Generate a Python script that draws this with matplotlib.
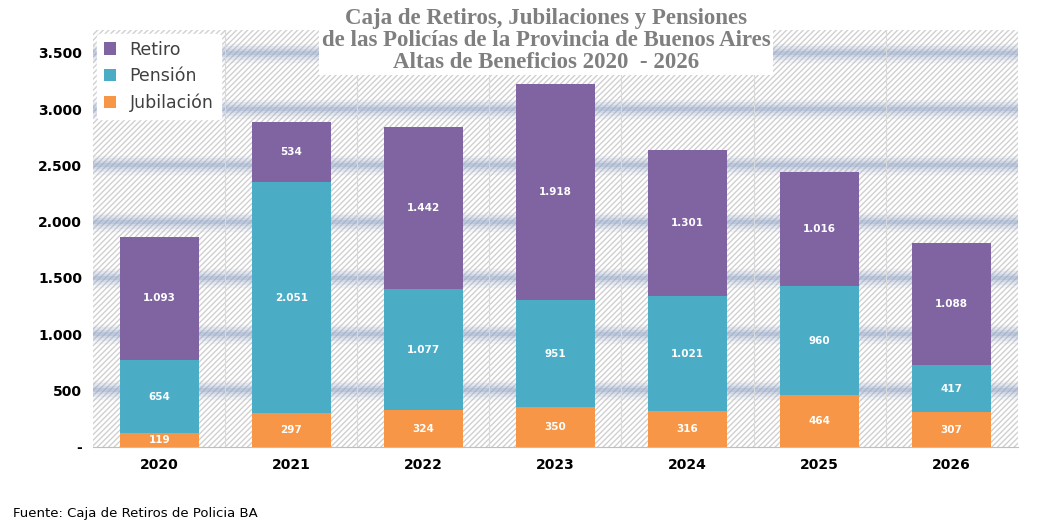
import numpy as np
import matplotlib.pyplot as plt
import matplotlib as mpl

years = ['2020', '2021', '2022', '2023', '2024', '2025', '2026']
jubilacion = [119, 297, 324, 350, 316, 464, 307]
pension = [654, 2051, 1077, 951, 1021, 960, 417]
retiro = [1093, 534, 1442, 1918, 1301, 1016, 1088]

C_RET = '#8064A2'
C_PEN = '#4BACC6'
C_JUB = '#F79646'


def fmt(v):
    return '{:,}'.format(v).replace(',', '.')


fig = plt.figure(figsize=(10.6, 5.3), dpi=100)
ax = fig.add_axes([0.088, 0.157, 0.872, 0.786])

x = np.arange(len(years))
ax.set_xlim(-0.5, len(years) - 0.5)
ax.set_ylim(0, 3700)

# hatched background
ax.fill_between([-0.5, len(years) - 0.5], 0, 3700, facecolor='white',
                edgecolor='#d0d0d0', hatch='//////', linewidth=0, zorder=0)

# blurry gridlines
for yv in range(500, 4000, 500):
    for lw, a in [(14, 0.10), (10, 0.15), (6, 0.2), (3, 0.3)]:
        ax.axhline(yv, color='#8fa3c7', lw=lw, alpha=a, zorder=1)

# vertical separators
for xv in np.arange(0.5, len(years) - 0.5, 1):
    ax.axvline(xv, color='#d9d9d9', lw=0.8, zorder=1)

w = 0.6
b1 = ax.bar(x, jubilacion, w, color=C_JUB, label='Jubilación', zorder=3)
b2 = ax.bar(x, pension, w, bottom=jubilacion, color=C_PEN, label='Pensión', zorder=3)
bot = [j + p for j, p in zip(jubilacion, pension)]
b3 = ax.bar(x, retiro, w, bottom=bot, color=C_RET, label='Retiro', zorder=3)

for i in range(len(years)):
    ax.text(x[i], jubilacion[i] / 2, fmt(jubilacion[i]), ha='center', va='center',
            color='white', fontsize=7.5, fontweight='bold', zorder=4)
    ax.text(x[i], jubilacion[i] + pension[i] / 2, fmt(pension[i]), ha='center', va='center',
            color='white', fontsize=7.5, fontweight='bold', zorder=4)
    ax.text(x[i], bot[i] + retiro[i] / 2, fmt(retiro[i]), ha='center', va='center',
            color='white', fontsize=7.5, fontweight='bold', zorder=4)

ax.set_yticks(range(0, 4000, 500))
ax.set_yticklabels(['-'] + [fmt(v) for v in range(500, 4000, 500)], fontsize=10, fontweight='bold')
ax.set_xticks(x)
ax.set_xticklabels(years, fontsize=10, fontweight='bold')
ax.tick_params(length=0, pad=8)
for s in ['top', 'right', 'left']:
    ax.spines[s].set_visible(False)
ax.spines['bottom'].set_color('#bfbfbf')

leg = ax.legend(handles=[b3, b2, b1], loc='upper left', bbox_to_anchor=(0.0, 1.0),
                fontsize=12.5, frameon=True, handlelength=0.7, handleheight=0.7,
                labelspacing=0.5, borderaxespad=0.2)
leg.get_frame().set_edgecolor('white')
leg.get_frame().set_alpha(1)
for t in leg.get_texts():
    t.set_color('#404040')

fig.text(0.515, 0.985, 'Caja de Retiros, Jubilaciones y Pensiones\nde las Policías de la Provincia de Buenos Aires\nAltas de Beneficios 2020  - 2026',
         ha='center', va='top', fontsize=16.5, fontweight='bold', color='#7f7f7f',
         family='Liberation Serif', linespacing=1.05,
         bbox=dict(facecolor='white', edgecolor='none', pad=2))

fig.text(0.012, 0.025, 'Fuente: Caja de Retiros de Policia BA', fontsize=9.5)

fig.savefig('out.png', dpi=100)
